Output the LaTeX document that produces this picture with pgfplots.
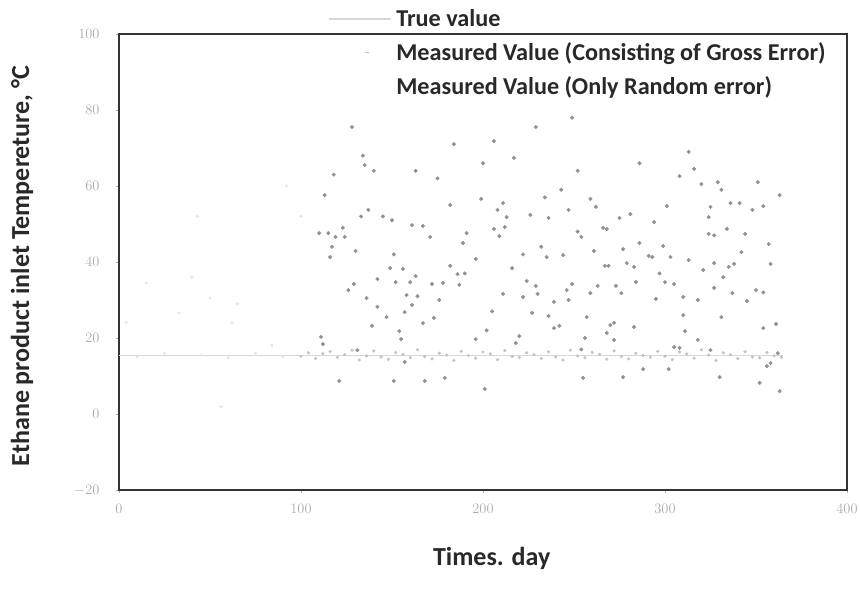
\documentclass[border=0pt]{standalone}
\usepackage{pgfplots}
\pgfplotsset{compat=1.18}
\usepackage{fontspec}
\setmainfont{Carlito}
\definecolor{tickgray}{RGB}{170,170,170}
\definecolor{grossdot}{RGB}{145,145,145}
\definecolor{randdot}{RGB}{195,195,195}
\definecolor{trueline}{RGB}{215,215,215}
\definecolor{faintdot}{RGB}{228,228,228}
\definecolor{labtext}{RGB}{40,40,40}
\begin{document}
\begin{tikzpicture}
\begin{axis}[
  scale only axis, width=728pt, height=456pt,
  xmin=0, xmax=400, ymin=-20, ymax=100,
  xtick={0,100,...,400}, ytick={-20,0,...,100},
  axis line style={draw=black!80, line width=1.3pt},
  tick style={draw=tickgray, line width=0.5pt},
  major tick length=3pt, tick align=outside,
  xtick pos=bottom, ytick pos=left,
  ticklabel style={text=tickgray, font=\fontsize{14}{16}\selectfont},
  yticklabel style={xshift=-13pt},
  xticklabel style={yshift=-8pt},
  xlabel={Times. day},
  ylabel={Ethane product inlet Tempereture, \textdegree C},
  label style={font=\fontsize{26}{31}\selectfont\bfseries, text=labtext},
  xlabel style={at={(axis description cs:0.512,0)}, anchor=north, yshift=-54pt},
  ylabel style={at={(axis description cs:0,0.5)}, anchor=center, yshift=97pt, xshift=-4pt},
  legend cell align=left,
  legend style={at={(rel axis cs:0.287,1.058)}, anchor=north west, draw=none, fill=none,
    font=\fontsize{24.2}{29}\selectfont\bfseries, text=labtext, row sep=10.5pt,
    inner sep=0pt, /tikz/every odd column/.append style={column sep=3pt}},
  clip=false,
]
% true value
\addplot[trueline, line width=1.2pt, legend image code/.code={\draw[trueline, line width=1.2pt] (0pt,0pt) -- (62pt,0pt);}]
  coordinates {(0,15.5) (365,15.5)};
\addlegendentry{True value}
% measured with gross error
\addplot[only marks, mark=*, mark size=1.8pt, grossdot, mark options={draw=none, fill=grossdot},
  legend image code/.code={\draw[randdot, line width=1pt] (36pt,0pt) -- (40pt,0pt);}]
  coordinates {
  (110,47.6) (111,20.3) (112,18.4) (113,57.6) (115,47.6) (116,41.3) (117,44) (118,63) (119,46.6)
  (121,8.7) (123,49) (124,46.6) (126,32.6) (128,75.5) (129,34.2) (130,42.9) (131,16.8)
  (133,52) (134,68) (135,65.5) (136,30.5) (137,53.7) (139,23.2) (140,64) (142,35.5) (142,28.2)
  (145,52) (147,25.5) (149,38.4) (150,51) (151,42) (151,8.7) (152,34.7) (154,21.8) (155,19.7)
  (156,38.2) (157,26.8) (157,13.7) (158,31.3) (160,34.7) (161,49.7) (161,28.7) (163,64) (163,36.3)
  (164,31) (167,49.5) (167,23.9) (168,8.7) (171,46.6) (172,34.2) (173,25.3) (175,62) (176,30)
  (178,34.5) (179,9.5) (182,55) (182,39) (184,71) (186,36.8) (187,34) (189,45) (190,37)
  (191,47.6) (196,40.8) (196,19.7) (199,56.6) (200,66) (201,6.6) (202,22) (205,27)
  (206,71.8) (206,48.7) (208,53.7) (209,46.8) (211,55.5) (211,31.6) (212,49.2) (213,51.8)
  (216,38.4) (217,67.4) (218,18.7) (220,20.5) (222,42) (222,30.8) (224,35) (226,52.4)
  (227,26.6) (229,75.5) (229,33.7) (230,31.6) (232,44) (234,57) (235,41.3) (236,51.6)
  (236,25.8) (239,29.5) (239,22.6) (242,23.2) (243,59) (244,41.8) (246,32.6) (247,53.7)
  (247,30) (249,78) (249,34.2) (252,64) (252,48) (254,46.6) (254,17) (255,9.5) (256,20)
  (257,25.5) (259,56.6) (259,31.8) (261,42.9) (262,54.5) (263,33.7) (266,49) (267,39)
  (268,48.7) (268,21.3) (269,39) (270,23.4) (272,24) (272,19.5) (273,33.7) (275,51.6)
  (276,31.8) (277,43.4) (277,9.7) (279,39.7) (281,52.6) (283,38.7) (283,22.9) (284,34.7)
  (286,66) (286,45) (288,11.8) (291,41.6) (293,41.3) (294,50.5) (295,30.3) (297,37)
  (299,44.2) (300,34.7) (301,54.7) (302,11.8) (303,41.3) (305,34.2) (305,17.6) (308,62.6)
  (308,17.4) (310,30.8) (310,26) (311,21.8) (313,69) (313,40.5) (316,64.5) (318,30)
  (318,19.5) (320,60.5) (321,37.9) (324,51.8) (324,47.4) (325,54.5) (325,16.8) (327,47)
  (327,39.7) (327,33.2) (329,61) (330,9.7) (331,59) (331,25.5) (332,36) (334,48.7)
  (335,38.7) (336,55.5) (337,31.8) (338,39.5) (341,55.5) (342,42.6) (344,47.4) (345,29.7)
  (348,53.7) (350,32.6) (351,61) (352,8.2) (354,54.7) (354,32) (354,22.6) (356,12.6)
  (357,44.7) (358,39.5) (358,13.4) (361,23.7) (362,16) (363,57.6) (363,6)
  };
\addlegendentry{Measured Value (Consisting of Gross Error)}
% measured with only random error
\addplot[only marks, mark=*, mark size=1.4pt, randdot, mark options={draw=none, fill=randdot},
  legend image code/.code={}]
  coordinates {
  (100,15.2) (104,16.1) (108,14.6) (112,15.9) (116,16.4) (120,14.9) (124,15.6) (128,16.8)
  (132,14.2) (136,15.3) (140,16.6) (144,15.0) (148,14.4) (152,16.2) (156,15.7) (160,14.8)
  (164,16.9) (168,15.1) (172,14.5) (176,16.0) (180,15.5) (184,14.1) (188,16.5) (192,15.4)
  (196,14.7) (200,16.3) (204,15.8) (208,14.3) (212,16.7) (216,15.2) (220,14.9) (224,16.1)
  (228,15.6) (232,14.6) (236,16.4) (240,15.0) (244,14.2) (248,16.8) (252,15.3) (256,14.8)
  (260,16.2) (264,15.7) (268,14.4) (272,16.6) (276,15.1) (280,14.5) (284,16.0) (288,15.4)
  (292,14.9) (296,16.5) (300,15.2) (304,14.3) (308,16.3) (312,15.8) (316,14.7) (320,16.9)
  (324,15.5) (328,14.1) (332,16.1) (336,15.6) (340,14.6) (344,16.4) (348,15.0) (352,14.8)
  (356,16.2) (360,15.3) (364,14.9)
  };
\addlegendentry{Measured Value (Only Random error)}
% faint early points
\addplot[only marks, mark=*, mark size=1.3pt, faintdot, mark options={draw=none, fill=faintdot}, forget plot]
  coordinates {
  (4,24) (15,34.5) (33,26.6) (40,36) (43,52) (50,30.5) (56,2) (62,24) (65,29) (84,18)
  (92,60) (100,52) (10,15) (25,16) (45,15.5) (60,14.8) (75,16) (90,15.2)
  };
\end{axis}
\pgfresetboundingbox
\path[use as bounding box] (-119pt,-100pt) rectangle (741pt,490pt);
\end{tikzpicture}
\end{document}
